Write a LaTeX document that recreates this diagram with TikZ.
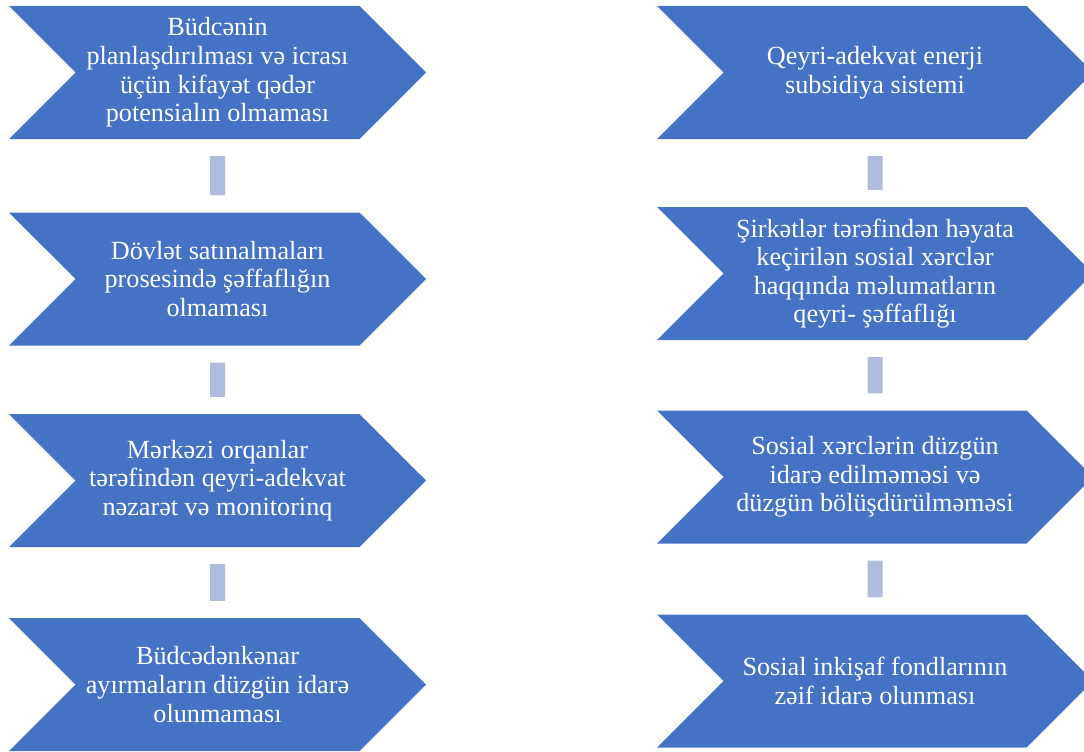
\documentclass[tikz,border=0pt]{standalone}
\usepackage{fontspec}
\setmainfont{Liberation Serif}
\usetikzlibrary{shapes.symbols}
\definecolor{chevblue}{HTML}{4472C4}
\definecolor{barblue}{HTML}{B0BCDE}
\tikzset{
  chev/.style={signal, signal from=west, signal to=east, fill=chevblue, text=white,
    minimum height=133pt, inner sep=0pt, align=center,
    font=\fontsize{26.2}{28.6}\selectfont},
  chevL/.style={chev, minimum width=417pt},
  chevR/.style={chev, minimum width=436pt},
  link/.style={draw=barblue, line width=15pt, shorten >=17pt, shorten <=17pt}
}
\begin{document}
\begin{tikzpicture}[x=1pt,y=-1pt]
\useasboundingbox (0,0) rectangle (1084,752);
\clip (0,0) rectangle (1084,752);

% left column
\node[chevL] (l1) at (217.5,72.5) {Büdcənin\\planlaşdırılması və icrası\\üçün kifayət qədər\\potensialın olmaması};
\node[chevL] (l2) at (217.5,279) {Dövlət satınalmaları\\prosesində şəffaflığın\\olmaması};
\node[chevL] (l3) at (217.5,480.5) {Mərkəzi orqanlar\\tərəfindən qeyri-adekvat\\nəzarət və monitorinq};
\node[chevL] (l4) at (217.5,684.5) {Büdcədənkənar\\ayırmaların düzgün idarə\\olunmaması};

% right column
\node[chevR] (r1) at (875,72.5) {Qeyri-adekvat enerji\\subsidiya sistemi};
\node[chevR] (r2) at (875,273.5) {Şirkətlər tərəfindən həyata\\keçirilən sosial xərclər\\haqqında məlumatların\\qeyri- şəffaflığı};
\node[chevR] (r3) at (875,477) {Sosial xərclərin düzgün\\idarə edilməməsi və\\düzgün bölüşdürülməməsi};
\node[chevR] (r4) at (875,681) {Sosial inkişaf fondlarının\\zəif idarə olunması};

% bars
\draw[link] (l1) -- (l2);
\draw[link] (l2) -- (l3);
\draw[link] (l3) -- (l4);
\draw[link] (r1) -- (r2);
\draw[link] (r2) -- (r3);
\draw[link] (r3) -- (r4);
\end{tikzpicture}
\end{document}
